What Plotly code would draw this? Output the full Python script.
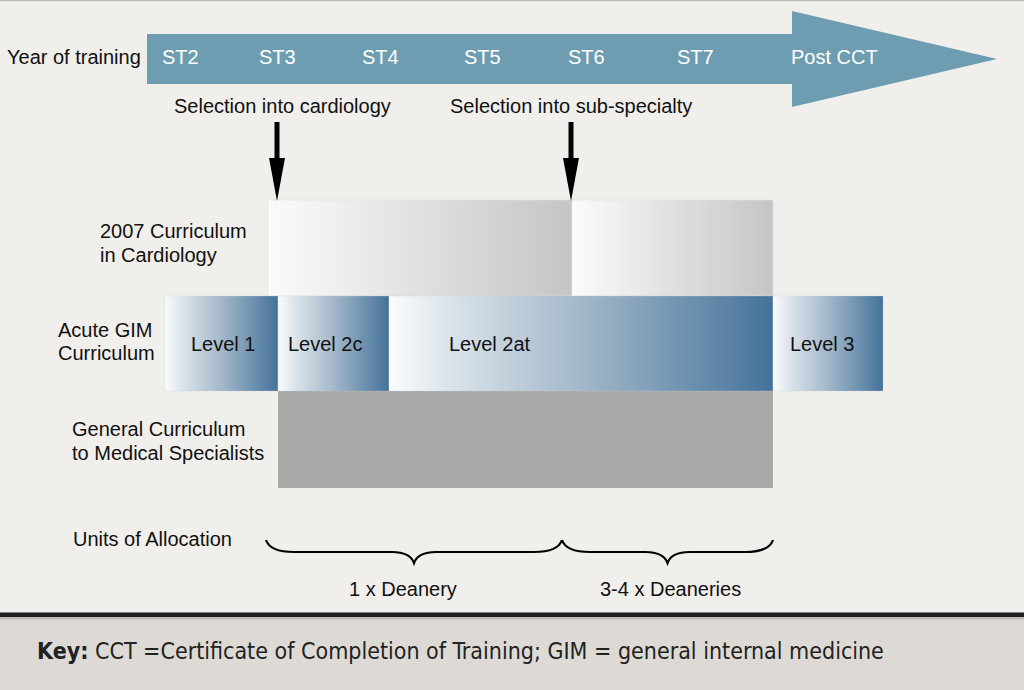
import plotly.graph_objects as go

# ---------------- data ----------------
years = ["ST2", "ST3", "ST4", "ST5", "ST6", "ST7", "Post CCT"]
year_pos = [180, 277, 380, 482, 586, 695, 834]

selections = ["Selection into cardiology", "Selection into sub-specialty"]
selection_pos = [277, 571]
selection_label_pos = [282, 571]

cardio_start = [268, 572]
cardio_end = [572, 773]

gim_levels = ["Level 1", "Level 2c", "Level 2at", "Level 3"]
gim_start = [165, 278, 389, 773]
gim_end = [278, 389, 773, 883]
gim_label_pos = [223, 325, 490, 822]

general_start = [278]
general_end = [773]

allocations = ["1 x Deanery", "3-4 x Deaneries"]
alloc_start = [266, 562]
alloc_end = [562, 773]
alloc_label_pos = [403, 670]

row_labels = ["Year of training", "2007 Curriculum", "in Cardiology", "Acute GIM", "Curriculum",
              "General Curriculum", "to Medical Specialists", "Units of Allocation"]
row_label_x = [5, 98, 98, 56, 56, 70, 70, 71]
row_label_y = [57, 231, 255, 330, 353, 429, 453, 539]

key_text = "<b>Key:</b> CCT =Certificate of Completion of Training; GIM = general internal medicine"

# ---------------- styling ----------------
BG = "#f0efeb"
FONT = "Liberation Sans, Arial, Helvetica, sans-serif"
ARROW_COL = "#6e9db1"
BLUE_SCALE = [[0, "#fbfcfd"], [0.15, "#dce4eb"], [0.5, "#a3b8ca"], [1, "#44729a"]]
GREY_SCALE = [[0, "#fbfbfb"], [1, "#c4c5c7"]]

fig = go.Figure()

def grad_rect(x0, x1, y0, y1, scale, line_col):
    fig.add_trace(go.Scatter(
        x=[x0, x1, x1, x0, x0], y=[y0, y0, y1, y1, y0], mode="lines",
        fill="toself", fillgradient=dict(type="horizontal", colorscale=scale),
        line=dict(width=0.6, color=line_col), hoverinfo="skip", showlegend=False))

# cardiology curriculum boxes
for s, e in zip(cardio_start, cardio_end):
    grad_rect(s, e, 200, 296, GREY_SCALE, "#dedfdf")

# general curriculum
for s, e in zip(general_start, general_end):
    fig.add_trace(go.Scatter(
        x=[s, e, e, s, s], y=[391, 391, 488, 488, 391], mode="lines", fill="toself",
        fillcolor="#a9a8a6", line=dict(width=0), hoverinfo="skip", showlegend=False))

# acute GIM levels
for s, e in zip(gim_start, gim_end):
    grad_rect(s, e, 296, 391, BLUE_SCALE, "rgba(200,212,222,0.5)")

shapes = []
# top thin border
shapes.append(dict(type="line", xref="paper", yref="y", x0=0, x1=1, y0=0.5, y1=0.5,
                   line=dict(color="#b8b8b8", width=1.5)))
# timeline arrow
t0, t1, tip = 147, 792, 997
shapes.append(dict(type="path", xref="x", yref="y",
                   path=f"M {t0},34 L {t1},34 L {t1},11 L {tip},59 L {t1},107 L {t1},84 L {t0},84 Z",
                   fillcolor=ARROW_COL, line=dict(width=0), layer="below"))
# selection arrows
for x in selection_pos:
    shapes.append(dict(type="line", xref="x", yref="y", x0=x, x1=x, y0=122, y1=162,
                       line=dict(color="black", width=5)))
    shapes.append(dict(type="path", xref="x", yref="y",
                       path=f"M {x-8},158 L {x+8},158 L {x},201 Z",
                       fillcolor="black", line=dict(width=0)))
# braces
def brace(x0, x1, ytop=540, yflat=552, ydip=563):
    xm = (x0 + x1) / 2
    return (f"M {x0},{ytop} Q {x0+4},{yflat} {x0+28},{yflat} L {xm-22},{yflat} "
            f"Q {xm-4},{yflat} {xm},{ydip} Q {xm+4},{yflat} {xm+22},{yflat} "
            f"L {x1-28},{yflat} Q {x1-4},{yflat} {x1},{ytop}")
for s, e in zip(alloc_start, alloc_end):
    shapes.append(dict(type="path", xref="x", yref="y", path=brace(s, e),
                       line=dict(color="black", width=2.2)))
# key box
shapes.append(dict(type="rect", xref="paper", yref="y", x0=0, x1=1, y0=617, y1=690,
                   fillcolor="#dddad5", line=dict(width=0), layer="below"))
shapes.append(dict(type="rect", xref="paper", yref="y", x0=0, x1=1, y0=612.5, y1=617,
                   fillcolor="#1f1f1f", line=dict(width=0)))
shapes.append(dict(type="rect", xref="paper", yref="y", x0=0, x1=1, y0=617, y1=619.5,
                   fillcolor="#bcb9b4", line=dict(width=0)))

ann = []
def text(x, y, t, color="#111", size=20, xanchor="center", family=FONT):
    ann.append(dict(x=x, y=y, xref="x", yref="y", text=t, showarrow=False,
                    xanchor=xanchor, yanchor="middle", align="left",
                    font=dict(family=family, size=size, color=color)))

for lab, x in zip(years, year_pos):
    text(x, 57, lab, color="white")
for lab, x in zip(selections, selection_label_pos):
    text(x, 106, lab)
for lab, x in zip(gim_levels, gim_label_pos):
    text(x, 344, lab)
for lab, x in zip(allocations, alloc_label_pos):
    text(x, 589, lab)
for lab, x, y in zip(row_labels, row_label_x, row_label_y):
    text(x, y, lab, xanchor="left")
text(35, 651, key_text, color="#222", size=23, xanchor="left",
     family="Liberation Sans Narrow, Arial Narrow, DejaVu Sans Condensed, sans-serif")

fig.update_layout(
    width=1024, height=690, margin=dict(l=0, r=0, t=0, b=0),
    paper_bgcolor=BG, plot_bgcolor=BG,
    xaxis=dict(range=[0, 1024], visible=False, fixedrange=True),
    yaxis=dict(range=[690, 0], visible=False, fixedrange=True),
    shapes=shapes, annotations=ann, showlegend=False,
)

fig.write_html("out.html", config={"displayModeBar": False},
               post_script="document.body.style.margin='0';document.body.style.overflow='hidden';")
